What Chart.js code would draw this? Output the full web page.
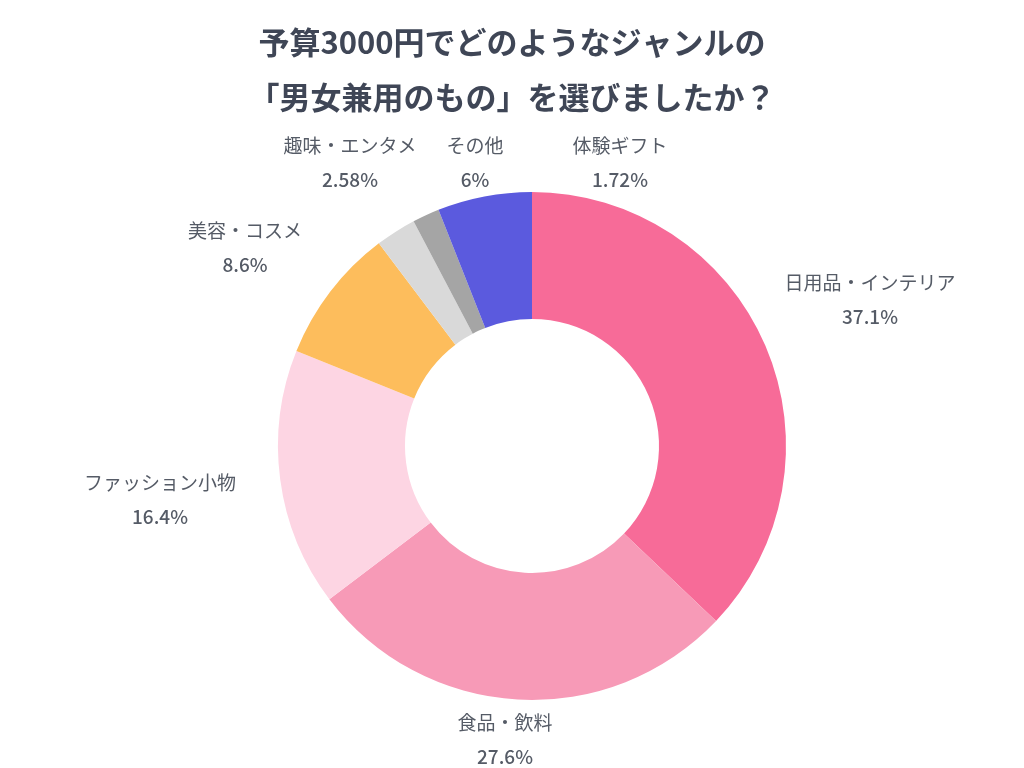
<!DOCTYPE html>
<html><head><meta charset="utf-8">
<script src="https://cdn.jsdelivr.net/npm/chart.js@4/dist/chart.umd.min.js"></script>
<style>html,body{margin:0;background:#fff}#wrap{width:1024px;height:768px}</style>
</head><body><div id="wrap"><canvas id="c"></canvas></div>
<script>
var titleLines = ['予算3000円でどのようなジャンルの', '「男女兼用のもの」を選びましたか？'];
var categories = ['日用品・インテリア', '食品・飲料', 'ファッション小物', '美容・コスメ', '趣味・エンタメ', '体験ギフト', 'その他'];
var values = [37.1, 27.6, 16.4, 8.6, 2.58, 1.72, 6];
var valueLabels = ['37.1%', '27.6%', '16.4%', '8.6%', '2.58%', '1.72%', '6%'];
var colors = ['#f76b98', '#f79ab7', '#fdd5e3', '#fdbd5c', '#d9d9d9', '#a5a5a5', '#5b5ade'];
// label anchor offsets from the donut centre (hand-placed, as in the original)
var labelOffsets = [[338, -146], [-27, 294], [-372, 54], [-287, -198], [-182, -283], [88, -283], [-57, -283]];

var font = "'Noto Sans CJK JP', 'Noto Sans', sans-serif";

var labelPlugin = {
    id: 'labels',
    afterDraw: function (chart) {
        var ctx = chart.ctx;
        var arc = chart.getDatasetMeta(0).data[0];
        ctx.save();
        ctx.textAlign = 'center';
        ctx.textBaseline = 'middle';
        ctx.fillStyle = '#3f4656';
        ctx.font = 'bold 31px ' + font;
        ctx.fillText(titleLines[0], 512, 42);
        ctx.fillText(titleLines[1], 512, 97);
        ctx.fillStyle = '#555b66';
        categories.forEach(function (name, i) {
            var x = arc.x + labelOffsets[i][0], y = arc.y + labelOffsets[i][1];
            ctx.font = '19px ' + font;
            ctx.fillText(name, x, y - 17);
            ctx.font = '500 19px ' + font;
            ctx.fillText(valueLabels[i], x, y + 17);
        });
        ctx.restore();
    }
};

new Chart(document.getElementById('c'), {
    type: 'doughnut',
    data: {
        labels: categories,
        datasets: [{ data: values, backgroundColor: colors, borderWidth: 0 }]
    },
    options: {
        responsive: true,
        maintainAspectRatio: false,
        animation: false,
        cutout: '50%',
        layout: { padding: { top: 192, bottom: 68, left: 277, right: 237 } },
        plugins: { legend: { display: false }, tooltip: { enabled: false } }
    },
    plugins: [labelPlugin]
});
</script></body></html>
